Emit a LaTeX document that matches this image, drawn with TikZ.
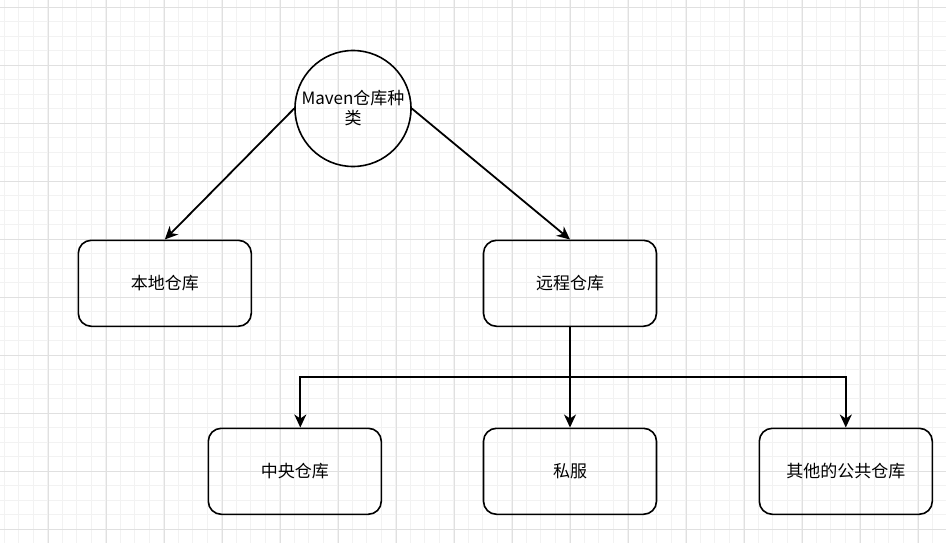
\documentclass[tikz,border=0pt]{standalone}
\usepackage{fontspec}
\setmainfont{Noto Sans CJK SC}
\usetikzlibrary{arrows.meta,positioning}

\begin{document}
\begin{tikzpicture}[x=1pt,y=-1pt,
    box/.style={draw,line width=1.6pt,rounded corners=13pt,minimum width=173pt,minimum height=86pt,font=\fontsize{17}{20}\selectfont},
    arr/.style={line width=1.8pt,-{Stealth[length=13pt,width=12pt,inset=4pt]}}
]
                \useasboundingbox (0,0) rectangle (946,543);
                % grid
                \foreach \i in {0,...,65} {
                    \draw[black!5,line width=0.8pt] (4.3+14.5*\i,0) -- (4.3+14.5*\i,543);
                }
                \foreach \i in {0,...,37} {
                    \draw[black!5,line width=0.8pt] (0,7+14.5*\i) -- (946,7+14.5*\i);
                }
                \foreach \i in {0,...,16} {
                    \draw[black!12,line width=0.9pt] (48.3+58*\i,0) -- (48.3+58*\i,543);
                }
                \foreach \i in {0,...,9} {
                    \draw[black!12,line width=0.9pt] (0,7+58*\i) -- (946,7+58*\i);
                }
                % nodes
                \node[draw,circle,line width=1.6pt,minimum size=116pt,inner sep=0pt,align=center,
                      font=\fontsize{17}{20}\selectfont] (kinds) at (353,108.5) {Maven仓库种\\类};
                \node[box] (local) at (164.8,283.3) {本地仓库};
                \node[box] (remote) at (570,283.3) {远程仓库};
                \node[box] (central) at (294.8,471.3) {中央仓库};
                \node[box] (private) at (570,471.3) {私服};
                \node[box] (other) at (845.8,471.3) {其他的公共仓库};
                \coordinate (split) at (remote.south |- 0,377);
                % connectors
                \draw[arr] (kinds.west) -- (local.north);
                \draw[arr] (kinds.east) -- (remote.north);
                \draw[arr] (remote.south) -- (private.north);
                \draw[arr] (split) -| ([xshift=5.5pt]central.north);
                \draw[arr] (split) -| (other.north);
            \end{tikzpicture}
\end{document}
